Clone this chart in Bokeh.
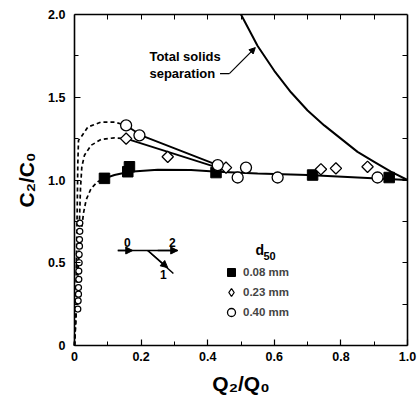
from bokeh.plotting import figure
from bokeh.models import (Range1d, LinearAxis, FixedTicker, Legend, LegendItem,
                          Label, Arrow, NormalHead)
from bokeh.embed import file_html
from bokeh.resources import INLINE
import math

# ---- data ----
sq_x = [0.09, 0.16, 0.165, 0.425, 0.715, 0.945]
sq_y = [1.01, 1.05, 1.08, 1.045, 1.03, 1.015]
di_x = [0.155, 0.28, 0.455, 0.74, 0.785, 0.88]
di_y = [1.25, 1.14, 1.075, 1.065, 1.07, 1.08]
ci_x = [0.155, 0.195, 0.43, 0.49, 0.515, 0.61, 0.91]
ci_y = [1.33, 1.27, 1.09, 1.015, 1.075, 1.015, 1.015]
near0_x = [0.01, 0.011, 0.012, 0.012, 0.013, 0.013, 0.014, 0.014, 0.015, 0.015, 0.016, 0.016]
near0_y = [0.22, 0.27, 0.31, 0.35, 0.40, 0.45, 0.50, 0.55, 0.60, 0.64, 0.69, 0.74]

sq_fit_x = [0.09, 0.12, 0.165, 0.25, 0.35, 0.43, 0.55, 0.7, 0.85, 1.0]
sq_fit_y = [1.01, 1.03, 1.05, 1.062, 1.06, 1.05, 1.04, 1.03, 1.015, 1.0]
ci_fit_x = [0.155, 0.2, 0.43]
ci_fit_y = [1.33, 1.27, 1.09]
di_fit_x = [0.155, 0.43]
di_fit_y = [1.25, 1.075]

dash_hi_x = [0.0, 0.004, 0.008, 0.01, 0.012, 0.02, 0.04, 0.08, 0.12, 0.155]
dash_hi_y = [0.0, 0.3, 0.8, 1.1, 1.24, 1.26, 1.32, 1.35, 1.35, 1.33]
dash_mid_x = [0.0, 0.008, 0.014, 0.018, 0.022, 0.03, 0.05, 0.08, 0.12, 0.155]
dash_mid_y = [0.0, 0.3, 0.7, 0.95, 1.08, 1.15, 1.21, 1.245, 1.255, 1.25]
dash_lo_x = [0.0, 0.006, 0.012, 0.02, 0.027, 0.035, 0.05, 0.07, 0.09]
dash_lo_y = [0.0, 0.25, 0.5, 0.68, 0.8, 0.88, 0.95, 0.99, 1.01]

total_x = [0.5, 0.55, 0.6, 0.65, 0.7, 0.75, 0.8, 0.85, 0.9, 0.95, 1.0]
total_y = [2.0, 1.81, 1.66, 1.53, 1.42, 1.33, 1.25, 1.17, 1.11, 1.05, 1.0]

x_ticks = [0, 0.2, 0.4, 0.6, 0.8, 1.0]
x_labels = ["0", "0.2", "0.4", "0.6", "0.8", "1.0"]
y_ticks = [0, 0.5, 1.0, 1.5, 2.0]
y_labels = ["0", "0.5", "1.0", "1.5", "2.0"]
x_title = "Q₂/Q₀"
y_title = "C₂/C₀"
legend_labels = ["0.08 mm", "0.23 mm", "0.40 mm"]

FONT = "Liberation Sans"
W, H = 418, 395
# where the data box sits on the canvas (pixels)
FL, FR, FT, FB = 74, 407, 14, 345
XMAX, YMAX = 1.0, 2.0
sx = XMAX / (FR - FL)
sy = YMAX / (FB - FT)

def dx(px):
    return (px - FL) * sx
def dy(py):
    return (FB - py) * sy

p = figure(width=W, height=H, output_backend="svg", toolbar_location=None,
           x_range=Range1d(dx(0), dx(W)), y_range=Range1d(dy(H), dy(0)),
           min_border=0, min_border_left=0, min_border_right=0,
           min_border_top=0, min_border_bottom=0)
p.background_fill_color = "white"
p.border_fill_color = "white"
p.grid.visible = False
p.outline_line_color = None

xa, ya = p.xaxis[0], p.yaxis[0]
xa.fixed_location = 0
ya.fixed_location = 0
xa.bounds = (0, XMAX)
ya.bounds = (0, YMAX)
for ax, ticks, labels in ((xa, x_ticks, x_labels), (ya, y_ticks, y_labels)):
    ax.major_label_overrides = {t: l for t, l in zip(ticks, labels)}
    ax.major_tick_in = 6
    ax.major_tick_out = 0
    ax.minor_tick_in = 4
    ax.minor_tick_out = 0
    ax.axis_line_width = 1.6
    ax.major_tick_line_width = 1.2
    ax.minor_tick_line_width = 1.0
    ax.major_label_text_font = FONT
    ax.major_label_text_font_style = "bold"
    ax.major_label_text_font_size = "12.5px"
    ax.major_label_text_color = "black"
    ax.axis_label_text_font = FONT
    ax.axis_label_text_font_style = "bold"
    ax.axis_label_text_font_size = "21px"
    ax.axis_label_text_color = "black"
ya.ticker = FixedTicker(ticks=y_ticks, minor_ticks=[0.25, 0.75, 1.25, 1.75])
xa.ticker = FixedTicker(ticks=x_ticks, minor_ticks=[0.1, 0.3, 0.5, 0.7, 0.9])
xa.major_label_standoff = 6
ya.major_label_standoff = 9
xa.axis_label = x_title
ya.axis_label = y_title
xa.axis_label_standoff = 8
ya.axis_label_standoff = 7

top = LinearAxis(fixed_location=YMAX, bounds=(0, XMAX),
                 ticker=FixedTicker(ticks=[0.1, 0.2, 0.3, 0.4, 0.5, 0.6, 0.7, 0.8, 0.9]),
                 major_tick_in=5, major_tick_out=0, minor_tick_in=0, minor_tick_out=0,
                 major_label_text_color=None, axis_line_width=1.6)
right = LinearAxis(fixed_location=XMAX, bounds=(0, YMAX),
                   ticker=FixedTicker(ticks=[0.25, 0.5, 0.75, 1.0, 1.25, 1.5, 1.75]),
                   major_tick_in=5, major_tick_out=0, minor_tick_in=0, minor_tick_out=0,
                   major_label_text_color=None, axis_line_width=1.6)
p.add_layout(top, "above")
p.add_layout(right, "right")

# curves
p.line(total_x, total_y, line_color="black", line_width=2)
for cx, cy in ((dash_hi_x, dash_hi_y), (dash_mid_x, dash_mid_y), (dash_lo_x, dash_lo_y)):
    p.line(cx, cy, line_color="black", line_width=1.7, line_dash="4 3")
p.line(sq_fit_x, sq_fit_y, line_color="black", line_width=2)
p.line(ci_fit_x, ci_fit_y, line_color="black", line_width=1.8)
p.line(di_fit_x, di_fit_y, line_color="black", line_width=1.8)

# points
p.scatter(near0_x, near0_y, marker="circle", size=6, fill_color="white",
          line_color="black", line_width=1.2)
r_sq = p.scatter(sq_x, sq_y, marker="square", size=10.5, fill_color="black",
                 line_color="black")
# legend key for the diamonds: legend glyphs are always drawn unrotated, so a
# tiny "diamond" marker (hidden under the rotated squares) supplies the key
r_di_key = p.scatter(di_x, di_y, marker="diamond", size=2, fill_color="white",
                     line_color="black", line_width=1.3)
r_di = p.scatter(di_x, di_y, marker="square", size=8, angle=math.pi / 4,
                 fill_color="white", line_color="black", line_width=1.3)
r_ci = p.scatter(ci_x, ci_y, marker="circle", size=11, fill_color="white",
                 line_color="black", line_width=1.3)

legend = Legend(items=[LegendItem(label=legend_labels[0], renderers=[r_sq]),
                       LegendItem(label=legend_labels[1], renderers=[r_di_key]),
                       LegendItem(label=legend_labels[2], renderers=[r_ci])],
                location=(219, 73), orientation="vertical",
                border_line_color=None, background_fill_alpha=0,
                label_text_font=FONT, label_text_font_style="bold",
                label_text_font_size="11.5px", glyph_width=24, glyph_height=20,
                label_standoff=-2, spacing=0, padding=0, margin=0, label_height=20)
p.add_layout(legend, "center")

lbl_kw = dict(text_font=FONT, text_font_style="bold", text_color="black")
p.add_layout(Label(x=dx(255), y=dy(249), text="d", text_font_size="14px",
                   text_baseline="middle", **lbl_kw))
p.add_layout(Label(x=dx(263), y=dy(255), text="50", text_font_size="11px",
                   text_baseline="middle", **lbl_kw))

# annotation: total solids separation
p.add_layout(Label(x=0.225, y=1.746, text="Total solids", text_font_size="13px",
                   text_baseline="middle", **lbl_kw))
p.add_layout(Label(x=0.225, y=1.643, text="separation", text_font_size="13px",
                   text_baseline="middle", **lbl_kw))
p.line([0.437, 0.465], [1.643, 1.643], line_color="black", line_width=1.2)
p.add_layout(Arrow(x_start=0.465, y_start=1.643, x_end=0.543, y_end=1.80,
                   line_width=1.2, line_color="black",
                   end=NormalHead(size=6, fill_color="black", line_color="black")))

# inset flow diagram
p.line([0.13, 0.31], [0.574, 0.574], line_color="black", line_width=1.5)
p.add_layout(Arrow(x_start=0.13, y_start=0.574, x_end=0.175, y_end=0.574,
                   line_width=1.5, end=NormalHead(size=7, fill_color="black")))
p.add_layout(Arrow(x_start=0.25, y_start=0.574, x_end=0.31, y_end=0.574,
                   line_width=1.5, end=NormalHead(size=7, fill_color="black")))
p.line([0.22, 0.297], [0.574, 0.435], line_color="black", line_width=1.5)
p.add_layout(Arrow(x_start=0.22, y_start=0.574, x_end=0.28, y_end=0.47,
                   line_width=1.5, end=NormalHead(size=7, fill_color="black")))
p.add_layout(Label(x=0.159, y=0.625, text="0", text_font_size="12px",
                   text_align="center", text_baseline="middle", **lbl_kw))
p.add_layout(Label(x=0.294, y=0.625, text="2", text_font_size="12px",
                   text_align="center", text_baseline="middle", **lbl_kw))
p.add_layout(Label(x=0.267, y=0.43, text="1", text_font_size="12px",
                   text_align="center", text_baseline="middle", **lbl_kw))

open("out.html", "w").write(file_html(p, INLINE))
